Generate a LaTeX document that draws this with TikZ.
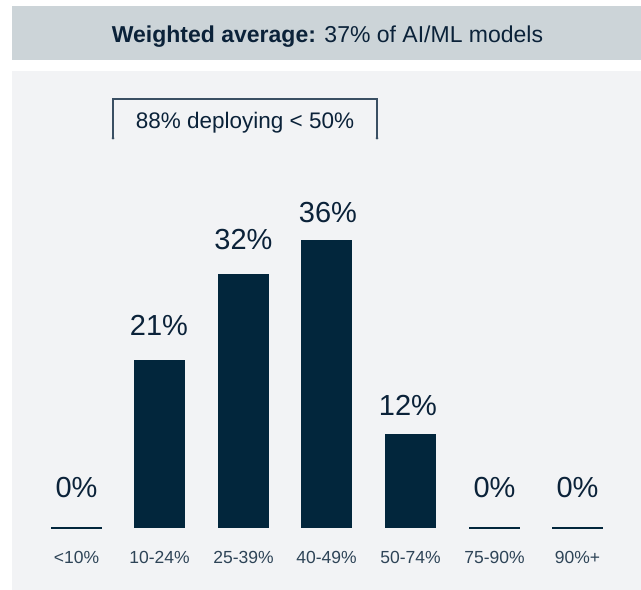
\documentclass[tikz,border=0pt]{standalone}
\usepackage{fontspec}
\setmainfont{Liberation Sans}
\definecolor{navy}{HTML}{02263C}
\definecolor{valtext}{HTML}{0B2239}
\definecolor{cattext}{HTML}{2E4457}
\definecolor{headbg}{HTML}{CCD4D8}
\definecolor{panelbg}{HTML}{F2F3F5}
\definecolor{brack}{HTML}{3A4F63}
\begin{document}
\begin{tikzpicture}[x=1pt,y=-1pt,
  bar/.style={fill=navy, draw=none, minimum width=51pt, inner sep=0pt, anchor=south},
  zeroline/.style={draw=navy, line width=2pt},
  val/.style={anchor=base, inner sep=0pt, text=valtext, font=\fontsize{29}{34}\selectfont},
  cat/.style={anchor=base, inner sep=0pt, text=cattext, font=\fontsize{17.5}{21}\selectfont},
  brk/.style={draw=brack, line width=1.2pt}]
\useasboundingbox (0,0) rectangle (641,590);
% backgrounds
\fill[headbg] (12,6) rectangle (641,60);
\fill[panelbg] (12,70.5) rectangle (641,590);
% header
\node[anchor=base, inner sep=0pt, text=valtext, font=\fontsize{23}{28}\selectfont] (title) at (327.5,42)
  {\textbf{Weighted average:} 37\% of AI/ML models};
% bracket
\coordinate (bl) at (113,138);
\coordinate (tl) at (113,99);
\coordinate (tr) at (377,99);
\coordinate (br) at (377,138);
\draw[brk] (bl) -- (tl) -- (tr) -- (br);
\fill[brack] (bl) circle (1.5pt);
\fill[brack] (br) circle (1.5pt);
\node[anchor=base, inner sep=0pt, text=valtext, font=\fontsize{22.5}{27}\selectfont] (bracktext) at (245,128)
  {88\% deploying < 50\%};
% zero lines
\coordinate (z1a) at (51,528); \coordinate (z1b) at (102,528);
\coordinate (z6a) at (469,528); \coordinate (z6b) at (520,528);
\coordinate (z7a) at (552,528); \coordinate (z7b) at (603,528);
\draw[zeroline] (z1a) -- (z1b);
\draw[zeroline] (z6a) -- (z6b);
\draw[zeroline] (z7a) -- (z7b);
% bars
\node[bar, minimum height=168pt] (b2) at (159.5,528) {};
\node[bar, minimum height=254pt] (b3) at (243.5,528) {};
\node[bar, minimum height=288pt] (b4) at (326.5,528) {};
\node[bar, minimum height=94pt] (b5) at (410.5,528) {};
% value labels
\node[val] (v1) at (76.5,497) {0\%};
\node[val] (v2) at (159,335) {21\%};
\node[val] (v3) at (243.5,249) {32\%};
\node[val] (v4) at (328,222) {36\%};
\node[val] (v5) at (408,415) {12\%};
\node[val] (v6) at (494.5,497) {0\%};
\node[val] (v7) at (577.5,497) {0\%};
% category labels
\node[cat] (c1) at (76.5,563) {<10\%};
\node[cat] (c2) at (159.5,563) {10-24\%};
\node[cat] (c3) at (243.5,563) {25-39\%};
\node[cat] (c4) at (326.5,563) {40-49\%};
\node[cat] (c5) at (410.5,563) {50-74\%};
\node[cat] (c6) at (494.5,563) {75-90\%};
\node[cat] (c7) at (577.5,563) {90\%+};
\end{tikzpicture}
\end{document}
